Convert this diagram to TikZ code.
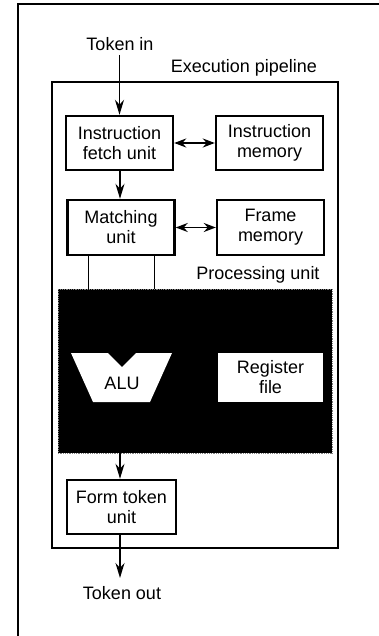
\documentclass[tikz,border=0pt]{standalone}
\usepackage{fontspec}
\setmainfont{Liberation Sans}
\usetikzlibrary{arrows.meta}
\begin{document}
\begin{tikzpicture}[x=1pt,y=-1pt,
  lbl/.style={font=\fontsize{18}{20}\selectfont, align=center, inner sep=0pt},
  unitbox/.style={draw, line width=2.4pt, fill=white, minimum width=107pt, minimum height=54pt,
    align=center, inner sep=0pt, font=\fontsize{18}{20}\selectfont},
  flow/.style={line width=1.6pt, -{Stealth[length=15pt,width=9pt]}},
  both/.style={line width=1.6pt, {Stealth[length=12pt,width=9pt]}-{Stealth[length=12pt,width=9pt]}},
  thin/.style={line width=1pt}]
\useasboundingbox (0,0) rectangle (379,636);
% outer frame (runs off to the right and bottom)
\draw[line width=2.4pt] (18,640) -- (18,4) -- (385,4);
% execution pipeline enclosure
\draw[line width=2.4pt] (52,82) rectangle (338,548);
\node[lbl] (pipe) at (244,68) {Execution pipeline};
% processing unit: dark panel
\fill[black] (58,289) rectangle (332,453);
\draw[gray, densely dotted, line width=0.8pt] (58,289) rectangle (332,453);
\coordinate (pu top) at (120,289);
\coordinate (pu bot) at (120,453);
\coordinate (pu l) at (88,289);
\coordinate (pu r) at (154,289);
\node[lbl] (puname) at (258,275) {Processing unit};
% ALU
\fill[white] (71,353) -- (108,353) -- (122,367) -- (136,353) -- (172,353) -- (150,402) -- (93,402) -- cycle;
\node[lbl] (alu) at (122,383) {ALU};
% register file
\node[fill=white, minimum width=105pt, minimum height=49pt, inner sep=0pt,
  align=center, font=\fontsize{18}{20}\selectfont] (reg) at (270.5,377.5) {Register\\file};
% pipeline units
\node[unitbox] (ifu) at (119.5,143) {Instruction\\fetch unit};
\node[unitbox] (imem) at (269.5,143) {Instruction\\memory};
\node[unitbox, minimum height=55pt] (mu) at (121,227.5) {Matching\\unit};
\node[unitbox, minimum height=55pt] (fmem) at (270.5,227.5) {Frame\\memory};
\node[unitbox, minimum width=109pt] (ftu) at (121.5,507) {Form token\\unit};
% token in / out
\node[lbl] (tin) at (120,44) {Token in};
\node[lbl] (tout) at (122,593) {Token out};
\coordinate (tout top) at (120,578);
% connectors
\draw[flow] (tin.south -| ifu.north) ++(0,4) -- (ifu.north);
\draw[both] (ifu.east) -- (imem.west);
\draw[flow] (ifu.south -| 120,0) -- (mu.north -| 120,0);
\draw[both] (mu.east) -- (fmem.west);
\draw[thin] (mu.south -| pu l) -- (pu l);
\draw[thin] (mu.south -| pu r) -- (pu r);
\draw[flow] (pu bot) -- (ftu.north -| pu bot);
\draw[flow] (ftu.south -| pu bot) -- (tout top);
\end{tikzpicture}
\end{document}
